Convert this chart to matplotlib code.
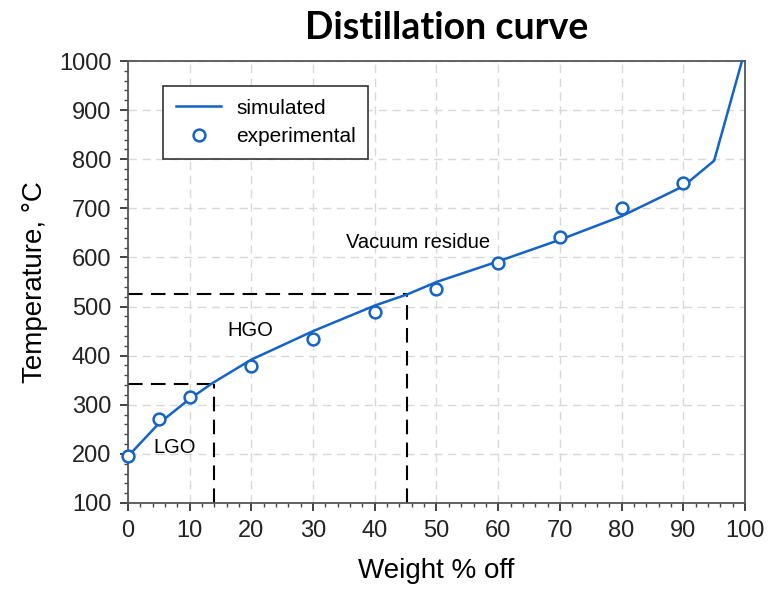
import matplotlib
matplotlib.use("Agg")
import matplotlib.pyplot as plt
from matplotlib.ticker import MultipleLocator

# data
exp_x = [0, 5, 10, 20, 30, 40, 50, 60, 70, 80, 90]
exp_y = [195, 272, 316, 378, 434, 489, 536, 589, 642, 700, 751]
sim_x = [0, 5, 10, 13.8, 20, 30, 40, 45.3, 50, 60, 70, 80, 90, 95, 100]
sim_y = [195, 262, 312, 345, 392, 450, 502, 525, 550, 592, 636, 684, 745, 797, 1022]
lgo_cut = (14.0, 343)
hgo_cut = (45.2, 526)

plt.rcParams['font.family'] = ['Liberation Sans', 'DejaVu Sans']
blue = '#1463c8'

fig = plt.figure(figsize=(7.72, 5.94), dpi=100)
ax = fig.add_axes([0.1658, 0.1532, 0.7992, 0.7441])

ax.grid(True, which='major', color='#d8d8d8', linestyle=(0, (6, 4)), linewidth=1.0)
ax.plot(sim_x, sim_y, color=blue, lw=1.8, label='simulated', zorder=3, clip_on=True)
ax.plot(exp_x, exp_y, 'o', mfc='white', mec=blue, mew=1.8, ms=8.5, label='experimental', zorder=4, clip_on=False)

dash = dict(color='black', lw=1.5, linestyle=(0, (7, 4)), zorder=2)
ax.plot([0, lgo_cut[0]], [lgo_cut[1], lgo_cut[1]], **dash)
ax.plot([lgo_cut[0], lgo_cut[0]], [100, lgo_cut[1]], **dash)
ax.plot([0, hgo_cut[0]], [hgo_cut[1], hgo_cut[1]], **dash)
ax.plot([hgo_cut[0], hgo_cut[0]], [100, hgo_cut[1]], **dash)

ax.text(7.6, 212, 'LGO', fontsize=14.5, ha='center', va='center')
ax.text(19.8, 452, 'HGO', fontsize=14.5, ha='center', va='center')
ax.text(47.0, 630, 'Vacuum residue', fontsize=14.5, ha='center', va='center')

ax.set_xlim(0, 100)
ax.set_ylim(100, 1000)
ax.xaxis.set_major_locator(MultipleLocator(10))
ax.xaxis.set_minor_locator(MultipleLocator(2))
ax.yaxis.set_major_locator(MultipleLocator(100))
ax.yaxis.set_minor_locator(MultipleLocator(20))
ax.tick_params(which='major', direction='out', length=6, width=1.2, labelsize=17, colors='#222222', pad=6)
ax.tick_params(which='minor', direction='out', length=3, width=1.0, colors='#444444')
for s in ax.spines.values():
    s.set_color('#555555')
    s.set_linewidth(1.3)

ax.set_xlabel('Weight % off', fontsize=20, labelpad=12)
ax.set_ylabel('Temperature, °C', fontsize=20, labelpad=8)
fig.text(0.578, 0.953, 'Distillation curve', fontsize=27, fontweight='bold',
         family=['Lato', 'DejaVu Sans'], ha='center', va='center')

leg = ax.legend(loc='upper left', bbox_to_anchor=(0.057, 0.943), borderaxespad=0,
                fontsize=15, frameon=True, fancybox=False, edgecolor='#333333',
                framealpha=1, borderpad=0.6, handlelength=2.2, handletextpad=0.7,
                labelspacing=0.45)
leg.get_frame().set_linewidth(1.2)

fig.savefig('out.png', dpi=100)
